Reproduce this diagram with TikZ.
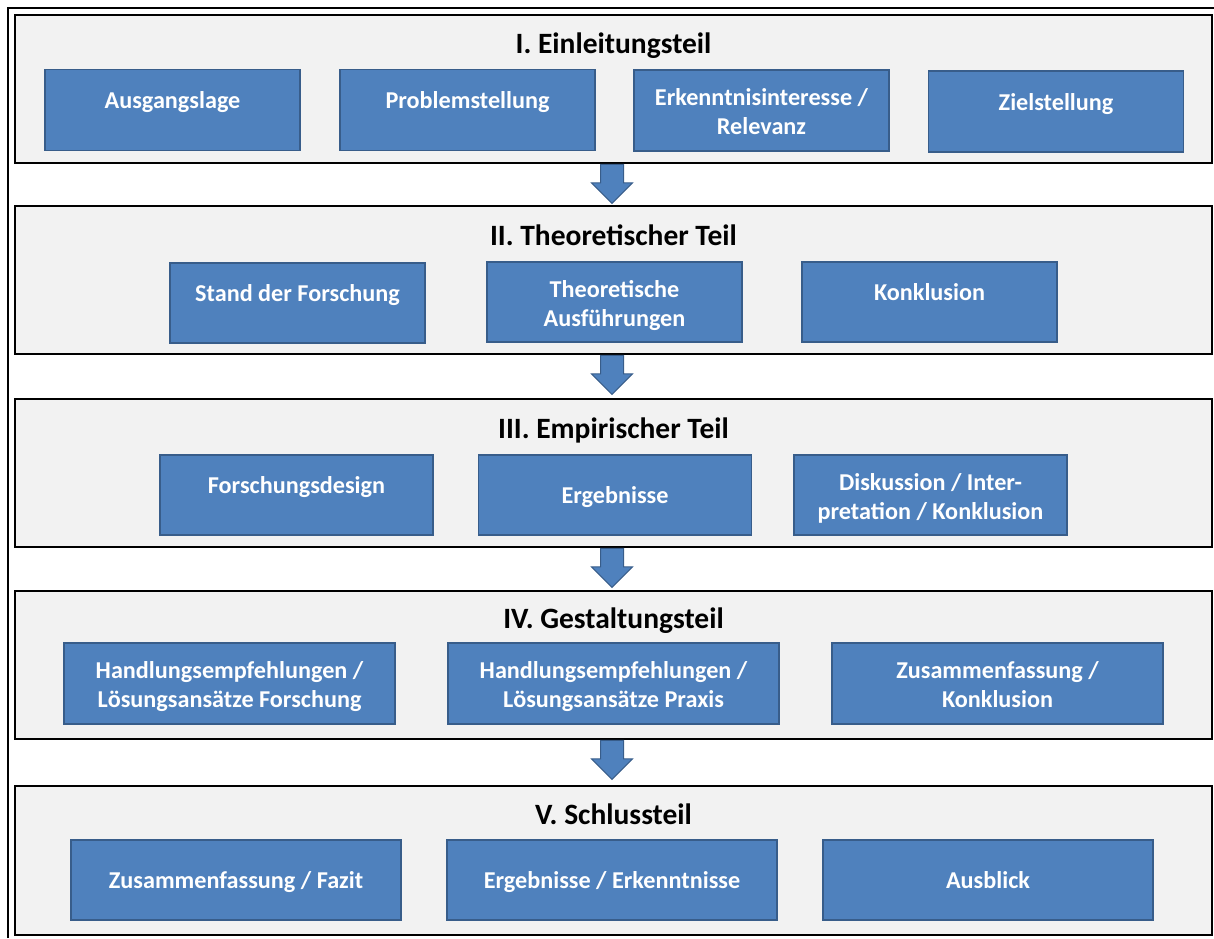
\documentclass[tikz,border=0pt]{standalone}
\usepackage{fontspec}
\setmainfont{Carlito}
\usetikzlibrary{positioning,shapes.arrows}
\definecolor{boxblue}{HTML}{4F81BD}
\definecolor{boxedge}{HTML}{385D8A}
\definecolor{panelgray}{HTML}{F2F2F2}

\begin{document}
\begin{tikzpicture}[x=1pt,y=-1pt,
  panel/.style={draw=black, line width=1.6pt, fill=panelgray, minimum width=1197pt, minimum height=148pt, inner sep=0pt},
  ptitle/.style={font=\fontsize{29.5}{33}\selectfont\bfseries, text height=20pt, text depth=6pt},
  blk/.style={draw=boxedge, line width=1.4pt, fill=boxblue, text=white, align=center, inner sep=0pt, minimum height=80pt, font=\fontsize{24.2}{29}\selectfont\bfseries},
  hi/.style={text height=10pt, text depth=13pt},
  lo/.style={text height=17pt, text depth=0pt},
  two/.style={text height=48pt, text depth=0pt},
  down/.style={single arrow, shape border rotate=270, draw=boxedge, fill=boxblue, line width=1pt, single arrow head extend=9pt, single arrow head indent=0pt, minimum height=39pt, inner sep=11pt, anchor=tail}]
  \useasboundingbox (0,0) rectangle (1214,938);
  \draw[line width=1.6pt] (8,938) -- (8,8) -- (1214,8);

  % the five parts
  \node[panel] (s1) at (613.5,89) {};
  \node[panel] (s2) at (613.5,280) {};
  \node[panel] (s3) at (613.5,473) {};
  \node[panel] (s4) at (613.5,665) {};
  \node[panel, minimum height=149pt] (s5) at (613.5,860.5) {};

  \node[ptitle] (t1) at ([yshift=-32pt]s1.north) {I. Einleitungsteil};
  \node[ptitle] (t2) at ([yshift=-33pt]s2.north) {II. Theoretischer Teil};
  \node[ptitle] (t3) at ([yshift=-33pt]s3.north) {III. Empirischer Teil};
  \node[ptitle] (t4) at ([yshift=-31pt]s4.north) {IV. Gestaltungsteil};
  \node[ptitle] (t5) at ([yshift=-32pt]s5.north) {V. Schlussteil};

  \node[blk, hi, minimum width=255pt, minimum height=81pt] (ausgang) at (172.5,110) {Ausgangslage};
  \node[blk, hi, minimum width=255pt, minimum height=81pt] (problem) at (467.5,110) {Problemstellung};
  \node[blk, two, minimum width=255pt, minimum height=81pt] (interesse) at (761.5,110.5) {Erkenntnisinteresse /\\Relevanz};
  \node[blk, hi, minimum width=255pt, minimum height=81pt] (ziel) at (1056,111.5) {Zielstellung};

  \node[blk, hi, minimum width=255pt] (stand) at (297.5,303) {Stand der Forschung};
  \node[blk, two, minimum width=255pt] (ausfuehr) at (614.5,302) {Theoretische\\Ausführungen};
  \node[blk, hi, minimum width=255pt] (konkl) at (929.5,302) {Konklusion};

  \node[blk, hi, minimum width=273pt] (design) at (296.5,495) {Forschungsdesign};
  \node[blk, lo, minimum width=273pt] (ergeb) at (615,495) {Ergebnisse};
  \node[blk, two, minimum width=273pt] (diskuss) at (930.5,495) {Diskussion / Inter-\\pretation / Konklusion};

  \node[blk, two, minimum width=331pt, minimum height=81pt] (forsch) at (229.5,683.5) {Handlungsempfehlungen /\\Lösungsansätze Forschung};
  \node[blk, two, minimum width=331pt, minimum height=81pt] (praxis) at (613.5,683.5) {Handlungsempfehlungen /\\Lösungsansätze Praxis};
  \node[blk, two, minimum width=331pt, minimum height=81pt] (zusfass) at (997.5,683.5) {Zusammenfassung /\\Konklusion};

  \node[blk, lo, minimum width=330pt] (fazit) at (236,880) {Zusammenfassung / Fazit};
  \node[blk, lo, minimum width=330pt] (erkennt) at (612,880) {Ergebnisse / Erkenntnisse};
  \node[blk, lo, minimum width=330pt] (ausblick) at (988,880) {Ausblick};

  % arrows between the parts
  \foreach \a in {1,...,4}
    \node[down] (a\a) at ([xshift=-1.5pt]s\a.south) {};
\end{tikzpicture}
\end{document}
